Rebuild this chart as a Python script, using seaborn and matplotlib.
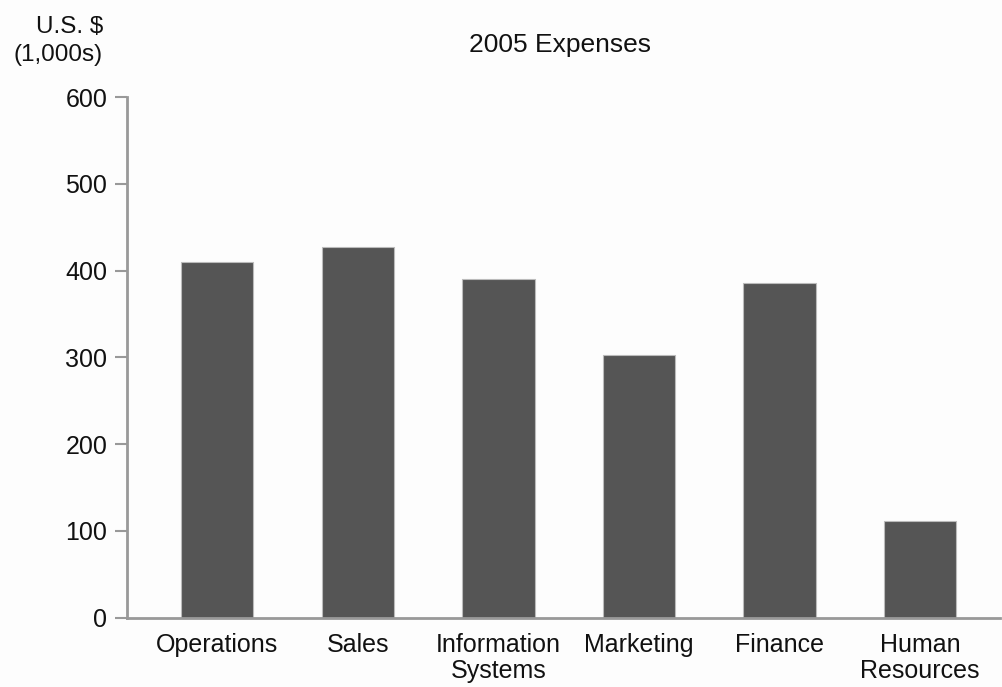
import matplotlib
matplotlib.use("Agg")
import matplotlib.pyplot as plt
import seaborn as sns
import pandas as pd

categories = ["Operations", "Sales", "Information\nSystems", "Marketing", "Finance", "Human\nResources"]
expenses = [410, 427, 390, 303, 386, 111]
yticks = [0, 100, 200, 300, 400, 500, 600]

sns.set_theme(style="white")
plt.rcParams['font.family'] = ['Liberation Sans', 'DejaVu Sans']

df = pd.DataFrame({"category": categories, "expense": expenses})

fig = plt.figure(figsize=(10.02, 6.87), dpi=100)
fig.patch.set_facecolor("#fdfdfd")
ax = fig.add_axes([0.1264, 0.1009, 0.8716, 0.7579])
ax.set_facecolor("#fdfdfd")

sns.barplot(data=df, x="category", y="expense", color="#555555", width=0.515,
            edgecolor="#bbbbbb", linewidth=0.8, saturation=1, ax=ax)

ax.set_xlim(-0.645, 5.57)
ax.set_ylim(0, 600)
ax.set_yticks(yticks)
ax.set_xlabel("")
ax.set_ylabel("")
for s in ["top", "right"]:
    ax.spines[s].set_visible(False)
for s in ["left", "bottom"]:
    ax.spines[s].set_color("#999999")
    ax.spines[s].set_linewidth(2)
ax.tick_params(axis="y", which="major", length=9, width=1.5, color="#999999",
               direction="out", left=True, labelsize=18, pad=5, labelcolor="#111111")
ax.tick_params(axis="x", length=0, labelsize=18, pad=11, labelcolor="#111111")
for lbl in ax.get_xticklabels():
    lbl.set_linespacing(1.12)

fig.text(560 / 1002, 1 - 45 / 687, "2005 Expenses", ha="center", va="center",
         fontsize=19, color="#111111")
fig.text(103 / 1002, 1 - 41 / 687, "U.S. $\n(1,000s)", ha="right", va="center",
         fontsize=17.5, color="#111111", multialignment="right", linespacing=1.34)

fig.savefig("out.png", dpi=100, facecolor=fig.get_facecolor())
